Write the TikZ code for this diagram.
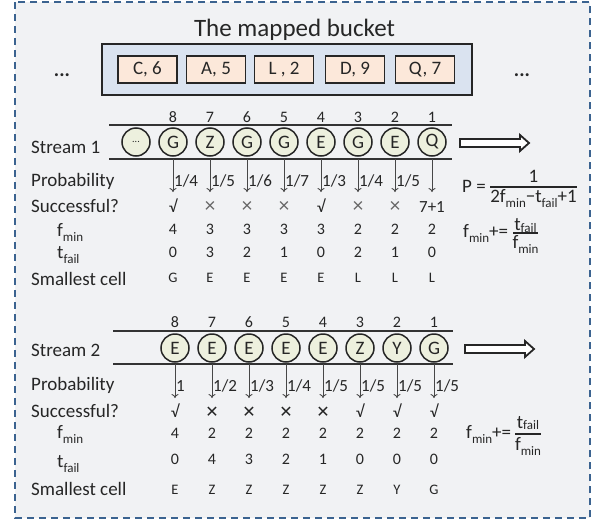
\documentclass[tikz,border=0pt]{standalone}
\usepackage{fontspec}
\setmainfont{Carlito}
\newfontfamily\djv{DejaVu Sans}
\usetikzlibrary{arrows.meta}
\definecolor{txt}{HTML}{262626}
\definecolor{bgc}{HTML}{F1F2F4}
\definecolor{dashc}{HTML}{3B6390}
\definecolor{bucketc}{HTML}{DAE3F0}
\definecolor{cellc}{HTML}{FCE8DA}
\definecolor{circc}{HTML}{EDF0DE}
\newcommand\mysub[1]{\raisebox{-0.27em}{\fontsize{13}{13}\selectfont #1}}
\newcommand\mysubn[1]{\raisebox{-0.08em}{\fontsize{13}{13}\selectfont #1}}
\newcommand\okm{√}
\newcommand\nom{{\color{black!60}\fontsize{21}{21}\selectfont ×}}
\newcommand\nob{{\djv\fontsize{16}{16}\selectfont ✕}}
\begin{document}
\begin{tikzpicture}[x=1pt,y=-1pt,
  lab/.style={anchor=base west, inner sep=0, text=txt, font=\fontsize{19}{19}\selectfont},
  big/.style={anchor=base, inner sep=0, text=txt, font=\fontsize{19}{19}\selectfont},
  val/.style={anchor=base, inner sep=0, text=txt, font=\fontsize{16}{16}\selectfont},
  sval/.style={anchor=base, inner sep=0, text=txt, font=\fontsize{14.5}{14.5}\selectfont},
  num/.style={anchor=base, inner sep=0, text=txt, font=\fontsize{16}{16}\selectfont},
  prob/.style={anchor=base west, inner sep=0, text=txt, font=\fontsize{17}{17}\selectfont},
  circ/.style={circle, draw=txt, line width=1.5pt, fill=circc, minimum size=28pt, inner sep=0, text=txt, font=\fontsize{19}{19}\selectfont},
  arr/.style={draw=black!72, line width=0.9pt, -{To[length=4pt,width=7pt]}},
  sline/.style={draw=black!80, line width=1.6pt},
  dbl/.style={draw=black!85, line width=1.8pt, fill=white, line join=miter},
  cellbox/.style={draw=txt, line width=1.5pt, fill=cellc, minimum width=59pt, minimum height=27pt, inner sep=0, text=txt, font=\fontsize{19}{19}\selectfont},
  bucketbox/.style={draw=txt, line width=2pt, fill=bucketc, minimum width=370pt, minimum height=51pt, inner sep=0},
  fbar/.style={draw=txt, line width=1.5pt},
  dots/.style={anchor=base, inner sep=0, text=txt, font=\fontsize{20}{20}\selectfont\bfseries}
]
\useasboundingbox (0,0) rectangle (597,525);
\fill[white] (0,0) rectangle (597,525);
\draw[dashc, line width=2pt, dash pattern=on 7pt off 5pt, fill=bgc] (15,2) rectangle (590,518);

% ---- mapped bucket ----
\node[big, font=\fontsize{25}{25}\selectfont] (title) at (294.5,36) {The mapped bucket};
\node[bucketbox] (bucket) at (287,69.5) {};
\node[cellbox] (k1) at (147.5,69.5) {C, 6};
\node[cellbox] (k2) at (216,69.5) {A, 5};
\node[cellbox] (k3) at (284,69.5) {L , 2};
\node[cellbox] (k4) at (355,69.5) {D, 9};
\node[cellbox] (k5) at (425,69.5) {Q, 7};
\node[dots] (dl) at (62,76) {...};
\node[dots] (dr) at (522,76) {...};

% ---- stream 1 ----
\coordinate (l1a) at (109,125); \coordinate (l1b) at (452,125);
\coordinate (l1c) at (109,159); \coordinate (l1d) at (452,159);
\draw[sline] (l1a) -- (l1b);
\draw[sline] (l1c) -- (l1d);
\node[circ, font=\fontsize{10}{10}\selectfont] (a0) at (136,142) {...};
\foreach \L/\p/\s/\f/\t/\m [count=\i] in {G/{1/4}/\okm/4/0/G, Z/{1/5}/\nom/3/3/E, G/{1/6}/\nom/3/2/E, G/{1/7}/\nom/3/1/E, E/{1/3}/\okm/3/0/E, G/{1/4}/\nom/2/2/L, E/{1/5}/\nom/2/1/L, Q//{7+1}/2/0/L}
{
  \pgfmathsetmacro\x{136+37*\i}
  \pgfmathtruncatemacro\n{9-\i}
  \node[circ] (a\i) at (\x,142) {\L};
  \node[num] (an\i) at (\x,122) {\n};
  \coordinate (aa\i) at (\x,159);
  \coordinate (ab\i) at (\x,192);
  \draw[arr] (aa\i) -- (ab\i);
  \node[prob] (ap\i) at (\x+1,186) {\p};
  \node[val, font=\fontsize{17}{17}\selectfont] (as\i) at (\x,212) {\s};
  \node[val] (af\i) at (\x,234) {\f};
  \node[val] (at\i) at (\x,257) {\t};
  \node[sval] (am\i) at (\x,282) {\m};
}
\node[lab] (s1) at (31,153) {Stream 1};
\node[lab] (p1) at (31,186) {Probability};
\node[lab] (q1) at (31,212) {Successful?};
\node[lab] (f1) at (57,236) {f\mysub{min}};
\node[lab] (t1) at (57,258) {t\mysub{fail}};
\node[lab] (c1) at (31,285) {Smallest cell};
\draw[dbl] (460,139) -- (520,139) -- (520,135) -- (529,143) -- (520,151) -- (520,147) -- (460,147) -- cycle;

% formulas stream 1
\node[lab] (pP) at (462,192) {P =};
\coordinate (pb1) at (490,187); \coordinate (pb2) at (577,187);
\draw[fbar] (pb1) -- (pb2);
\node[big] (pnum) at (533.5,182) {1};
\node[big] (pden) at (533.5,202) {2f\mysub{min}−t\mysub{fail}+1};
\node[lab] (fa) at (463,237) {f\mysub{min}+=};
\coordinate (fb1) at (513,233); \coordinate (fb2) at (538,233);
\draw[fbar] (fb1) -- (fb2);
\node[big] (fnum) at (525.5,230.5) {t\mysubn{fail}};
\node[big] (fden) at (525.5,248) {f\mysub{min}};

% ---- stream 2 ----
\coordinate (l2a) at (113,331); \coordinate (l2b) at (453,331);
\coordinate (l2c) at (113,364); \coordinate (l2d) at (453,364);
\draw[sline] (l2a) -- (l2b);
\draw[sline] (l2c) -- (l2d);
\foreach \L/\p/\s/\f/\t/\m [count=\i] in {E/1/\okm/4/0/E, E/{1/2}/\nob/2/4/Z, E/{1/3}/\nob/2/3/Z, E/{1/4}/\nob/2/2/Z, E/{1/5}/\nob/2/1/Z, Z/{1/5}/\okm/2/0/Z, Y/{1/5}/\okm/2/0/Y, G/{1/5}/\okm/2/0/G}
{
  \pgfmathsetmacro\x{138+37*\i}
  \pgfmathtruncatemacro\n{9-\i}
  \node[circ] (b\i) at (\x,348) {\L};
  \node[num] (bn\i) at (\x,327) {\n};
  \coordinate (ba\i) at (\x,364);
  \coordinate (bb\i) at (\x,398);
  \draw[arr] (ba\i) -- (bb\i);
  \node[prob] (bp\i) at (\x+1,391) {\p};
  \node[val, font=\fontsize{17}{17}\selectfont] (bs\i) at (\x,417) {\s};
  \node[val] (bf\i) at (\x,438) {\f};
  \node[val] (bt\i) at (\x,464) {\t};
  \node[sval] (bm\i) at (\x,494) {\m};
}
\node[lab] (s2) at (31,356) {Stream 2};
\node[lab] (p2) at (31,390) {Probability};
\node[lab] (q2) at (31,417) {Successful?};
\node[lab] (f2) at (57,438) {f\mysub{min}};
\node[lab] (t2) at (57,467) {t\mysub{fail}};
\node[lab] (c2) at (31,495) {Smallest cell};
\draw[dbl] (465,345) -- (525,345) -- (525,341) -- (534,349) -- (525,357) -- (525,353) -- (465,353) -- cycle;

\node[lab] (ga) at (466,438) {f\mysub{min}+=};
\coordinate (gb1) at (515,434); \coordinate (gb2) at (541,434);
\draw[fbar] (gb1) -- (gb2);
\node[big] (gnum) at (528,428) {t\mysubn{fail}};
\node[big] (gden) at (528,450) {f\mysub{min}};
\end{tikzpicture}
\end{document}
